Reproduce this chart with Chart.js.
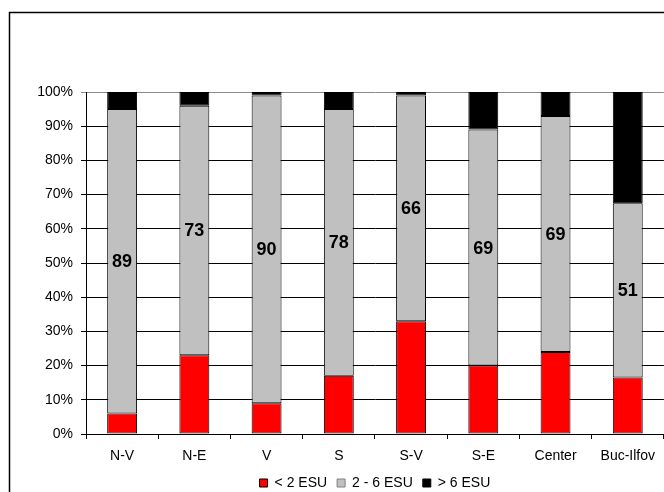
<!DOCTYPE html>
<html>
<head>
<meta charset="utf-8">
<script src="https://cdn.jsdelivr.net/npm/chart.js@4/dist/chart.umd.min.js"></script>
<style>
  html, body { margin: 0; padding: 0; background: #fff; overflow: hidden; }
  #wrap { position: relative; width: 664px; height: 492px; }
</style>
</head>
<body>
<div id="wrap"><canvas id="c" width="664" height="492"></canvas></div>
<script>
// Farm size structure by development region (share of holdings, %)
const regions = ['N-V', 'N-E', 'V', 'S', 'S-V', 'S-E', 'Center', 'Buc-Ilfov'];
const under2Esu = [6, 23, 9, 17, 33, 20, 24, 16.5];
const from2to6Esu = [89, 73, 90, 78, 66, 69, 69, 51];
const over6Esu = [5, 4, 1, 5, 1, 11, 7, 32.5];
const seriesNames = ['< 2 ESU', '2 - 6 ESU', '> 6 ESU'];
const yTickValues = [0, 10, 20, 30, 40, 50, 60, 70, 80, 90, 100];

const FONT = 'Arial, "Liberation Sans", sans-serif';

// Outer frame around the whole figure
const framePlugin = {
  id: 'frame',
  afterDraw(chart) {
    const ctx = chart.ctx;
    ctx.save();
    ctx.strokeStyle = '#000';
    ctx.lineWidth = 1.5;
    ctx.strokeRect(9.5, 12.5, 720, 520);
    ctx.restore();
  }
};

// Centre the legend under the plot area and nudge it down slightly
const legendPlacement = {
  id: 'legendPlacement',
  afterLayout(chart) {
    const lg = chart.legend;
    if (!lg) return;
    const ca = chart.chartArea;
    lg.left = ca.left;
    lg.right = ca.right;
    lg.width = ca.right - ca.left;
    lg.top += 2;
    lg.bottom += 2;
  }
};

// Value labels centred on the middle segment
const segmentLabels = {
  id: 'segmentLabels',
  afterDatasetsDraw(chart) {
    const ctx = chart.ctx;
    const meta = chart.getDatasetMeta(1);
    const data = chart.data.datasets[1].data;
    ctx.save();
    ctx.font = 'bold 18px ' + FONT;
    ctx.fillStyle = '#000';
    ctx.textAlign = 'center';
    ctx.textBaseline = 'middle';
    meta.data.forEach((bar, i) => {
      const y = (bar.y + bar.base) / 2;
      ctx.fillText(String(data[i]), bar.x, y + 1);
    });
    ctx.restore();
  }
};

new Chart(document.getElementById('c'), {
  type: 'bar',
  data: {
    labels: regions,
    datasets: [
      { label: seriesNames[0], data: under2Esu, backgroundColor: '#ff0000' },
      { label: seriesNames[1], data: from2to6Esu, backgroundColor: '#c0c0c0' },
      { label: seriesNames[2], data: over6Esu, backgroundColor: '#000000' }
    ].map(d => Object.assign(d, {
      borderColor: '#000',
      borderWidth: 1,
      borderSkipped: false,
      categoryPercentage: 1,
      barPercentage: 0.414
    }))
  },
  options: {
    responsive: false,
    animation: false,
    devicePixelRatio: 1,
    layout: { padding: { top: 92, left: 0, right: 0, bottom: -6 } },
    plugins: {
      tooltip: { enabled: false },
      legend: {
        position: 'bottom',
        labels: {
          color: '#000',
          font: { family: FONT, size: 14 },
          boxWidth: 8,
          boxHeight: 8,
          padding: 10,
          generateLabels(chart) {
            return chart.data.datasets.map((d, i) => ({
              text: d.label,
              fillStyle: d.backgroundColor,
              strokeStyle: i === 1 ? '#808080' : '#000',
              lineWidth: 1,
              datasetIndex: i,
              hidden: false
            }));
          }
        }
      }
    },
    scales: {
      x: {
        stacked: true,
        afterFit(s) { s.height = 30; },
        grid: {
          offset: true,
          drawOnChartArea: false,
          drawTicks: true,
          tickLength: 5,
          color: '#000'
        },
        border: { color: '#000', width: 1 },
        ticks: {
          color: '#000',
          font: { family: FONT, size: 14 },
          padding: 9,
          maxRotation: 0,
          autoSkip: false
        }
      },
      y: {
        stacked: true,
        min: 0,
        max: 100,
        afterFit(s) { s.width = 86; },
        afterBuildTicks(s) { s.ticks = yTickValues.map(v => ({ value: v })); },
        grid: {
          color: ctx => (ctx.tick && ctx.tick.value === 100 ? '#8a8a8a' : '#000'),
          tickLength: 5,
          lineWidth: 1
        },
        border: { color: '#000', width: 1 },
        ticks: {
          color: '#000',
          font: { family: FONT, size: 14 },
          padding: 8,
          callback: v => v + '%'
        }
      }
    }
  },
  plugins: [framePlugin, legendPlacement, segmentLabels]
});
</script>
</body>
</html>
